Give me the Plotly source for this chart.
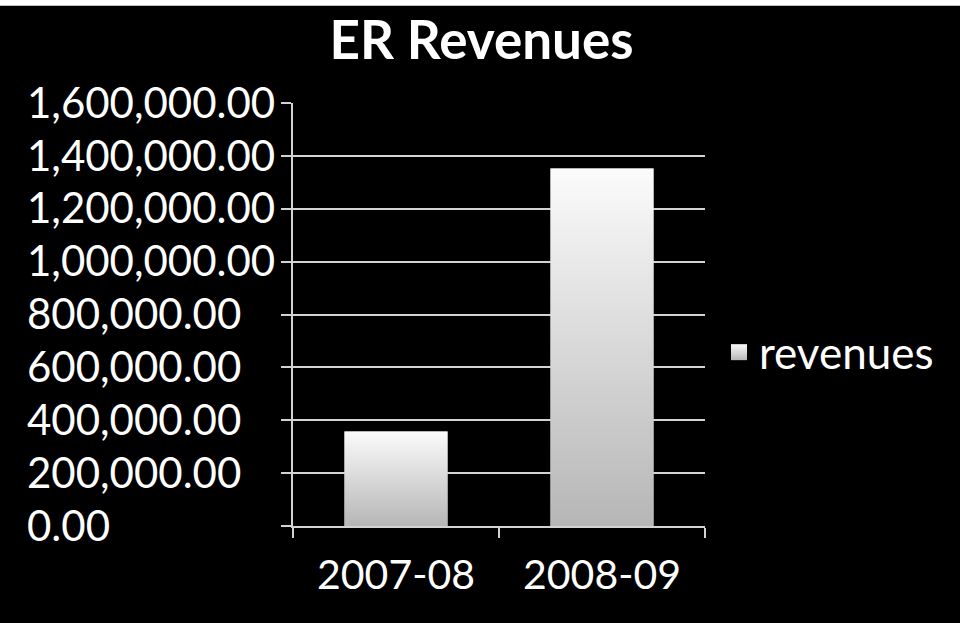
import plotly.graph_objects as go

# Data
periods = ["2007-08", "2008-09"]
revenues = [357000, 1352000]
y_tick_values = [0, 200000, 400000, 600000, 800000, 1000000, 1200000, 1400000, 1600000]

FONT = "Lato"
GRID = "#d2d2d2"
BAR_WIDTH = 0.5
TOP_COLOR = "#fbfbfb"
BOTTOM_COLOR = "#b6b6b6"

# Paper spans pixels 20..705; the plot area itself starts at 293
LEFT_MARGIN, RIGHT_MARGIN = 20, 255
PAPER_W = 960 - LEFT_MARGIN - RIGHT_MARGIN
PLOT_LEFT = (293 - LEFT_MARGIN) / PAPER_W

fig = go.Figure()

# Base bars on the category axis (sets the categories and tick layout)
fig.add_trace(go.Bar(
    x=periods, y=revenues, name="revenues",
    marker=dict(color="#d8d8d8", line=dict(width=0)),
    width=BAR_WIDTH, showlegend=False, hoverinfo="skip",
))

# Gradient-filled bar faces, drawn on an overlaid linear axis
for i, (period, value) in enumerate(zip(periods, revenues)):
    left, right = i - BAR_WIDTH / 2, i + BAR_WIDTH / 2
    fig.add_trace(go.Scatter(
        x=[left, right, right, left, left],
        y=[0, 0, value, value, 0],
        xaxis="x2", yaxis="y",
        mode="lines", line=dict(width=0),
        fill="toself",
        fillgradient=dict(type="vertical", start=0, stop=value,
                          colorscale=[[0, BOTTOM_COLOR], [1, TOP_COLOR]]),
        name=period, showlegend=False, hoverinfo="skip",
    ))

# Legend entry with a shaded square swatch (also carries the label axis)
fig.add_trace(go.Scatter(
    x=[None], y=[None], xaxis="x", yaxis="y2",
    mode="markers", name="revenues",
    marker=dict(symbol="square", size=18, color=TOP_COLOR,
                gradient=dict(type="vertical", color=BOTTOM_COLOR),
                line=dict(width=0)),
))

fig.update_layout(
    width=960, height=623,
    paper_bgcolor="black", plot_bgcolor="black",
    margin=dict(l=LEFT_MARGIN, r=RIGHT_MARGIN, t=102.5, b=97, pad=0),
    font=dict(family=FONT, color="white", size=40),
    title=dict(text="<b>ER Revenues</b>", x=0.5016, xanchor="center",
               y=0.935, yanchor="middle", yref="container",
               font=dict(family=FONT, size=53, color="white")),
    bargap=0.5,
    showlegend=True,
    legend=dict(x=(719 - LEFT_MARGIN) / PAPER_W, xanchor="left",
                y=0.41, yanchor="middle",
                bgcolor="rgba(0,0,0,0)", font=dict(size=44, color="white"),
                itemsizing="trace", tracegroupgap=0),
    xaxis=dict(type="category", categoryarray=periods, range=[-0.5, 1.5],
               domain=[PLOT_LEFT, 1],
               showline=True, linecolor=GRID, linewidth=1.5,
               ticks="outside", tickson="boundaries", ticklen=10,
               tickcolor=GRID, tickwidth=1.5, showgrid=False,
               tickfont=dict(size=41, color="white"), ticklabelstandoff=12),
    xaxis2=dict(overlaying="x", range=[-0.5, 1.5], domain=[PLOT_LEFT, 1],
                visible=False),
    # Axis line, ticks and gridlines
    yaxis=dict(range=[0, 1600000], tickvals=y_tick_values,
               showline=True, linecolor=GRID, linewidth=1.5,
               ticks="outside", ticklen=10, tickcolor=GRID, tickwidth=1.5,
               showgrid=True, gridcolor=GRID, gridwidth=1.5, zeroline=False,
               showticklabels=False),
    # Left-aligned value labels
    yaxis2=dict(overlaying="y", side="right", anchor="free",
                position=(26 - LEFT_MARGIN) / PAPER_W,
                range=[0, 1600000], tickvals=y_tick_values, tickformat=",.2f",
                showline=False, ticks="", showgrid=False, zeroline=False,
                tickfont=dict(size=42, color="white")),
    shapes=[dict(type="rect", xref="paper", yref="paper",
                 x0=-0.1, x1=1.5, y0=1.2302, y1=1.26,
                 fillcolor="white", line=dict(width=0), layer="above")],
)

fig.write_html("out.html")
